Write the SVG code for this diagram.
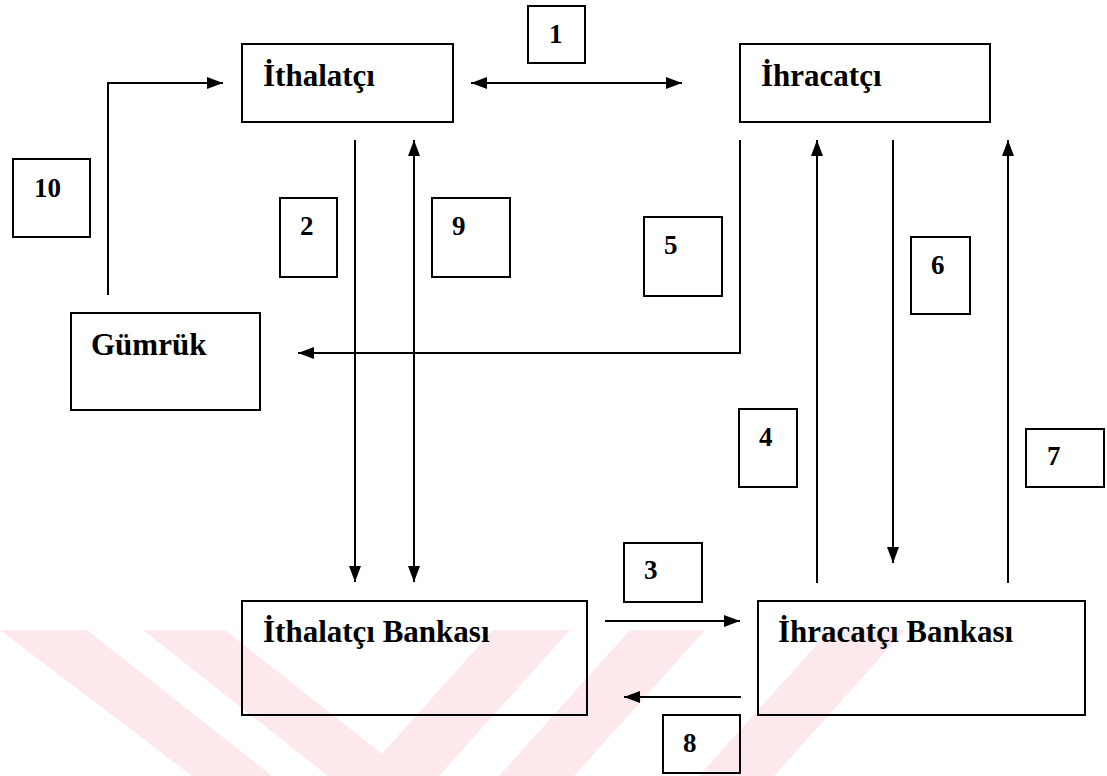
<svg xmlns="http://www.w3.org/2000/svg" width="1107" height="776" viewBox="0 0 1107 776">
<style>
.box{fill:none;stroke:#000;stroke-width:2}
.lbl{fill:#000;font-family:"Liberation Serif","Times New Roman",serif;font-weight:bold;font-size:31px}
.num{fill:#000;font-family:"Liberation Serif","Times New Roman",serif;font-weight:bold;font-size:27px}
.ln{fill:none;stroke:#000;stroke-width:2}
.wm{fill:#fde8ec}
</style>
<defs>
<marker id="ah" viewBox="0 0 16 12" refX="16" refY="6" markerWidth="16" markerHeight="12" markerUnits="userSpaceOnUse" orient="auto-start-reverse">
<path d="M0,0 L16,6 L0,12 Z" fill="#000"/>
</marker>
</defs>
<rect width="1107" height="776" fill="#fff"/>
<g id="watermark">
<polygon class="wm" points="0,630 87,630 272,776 192,776"/>
<polygon class="wm" points="143,630 225,630 410,776 328,776"/>
<polygon class="wm" points="493,630 570,630 439,776 362,776"/>
<polygon class="wm" points="630,630 705,630 574,776 499,776"/>
<polygon class="wm" points="830,630 905,630 774,776 699,776"/>
</g>
<g id="connectors">
<path class="ln" d="M108,295 L108,83 L223,83" marker-end="url(#ah)"/>
<path class="ln" d="M471,83 L682,83" marker-start="url(#ah)" marker-end="url(#ah)"/>
<path class="ln" d="M355,140 L355,582" marker-end="url(#ah)"/>
<path class="ln" d="M414,140 L414,582" marker-start="url(#ah)" marker-end="url(#ah)"/>
<path class="ln" d="M740,140 L740,353 L298,353" marker-end="url(#ah)"/>
<path class="ln" d="M817,583 L817,140" marker-end="url(#ah)"/>
<path class="ln" d="M893,140 L893,563" marker-end="url(#ah)"/>
<path class="ln" d="M1008,583 L1008,140" marker-end="url(#ah)"/>
<path class="ln" d="M605,621 L740,621" marker-end="url(#ah)"/>
<path class="ln" d="M741,697 L624,697" marker-end="url(#ah)"/>
</g>
<g id="ithalatci"><rect class="box" x="242" y="44" width="211" height="78"/><text class="lbl" x="263" y="86">İthalatçı</text></g>
<g id="ihracatci"><rect class="box" x="740" y="44" width="250" height="78"/><text class="lbl" x="761" y="86">İhracatçı</text></g>
<g id="gumruk"><rect class="box" x="71" y="313" width="189" height="97"/><text class="lbl" x="91" y="355">Gümrük</text></g>
<g id="ithalatci-bankasi"><rect class="box" x="242" y="601" width="345" height="114"/><text class="lbl" x="263" y="642">İthalatçı Bankası</text></g>
<g id="ihracatci-bankasi"><rect class="box" x="758" y="601" width="327" height="114"/><text class="lbl" x="778" y="642">İhracatçı Bankası</text></g>
<g id="label-1"><rect class="box" x="528" y="6" width="57" height="57"/><text class="num" x="549" y="43">1</text></g>
<g id="label-2"><rect class="box" x="280" y="198" width="57" height="79"/><text class="num" x="300" y="235">2</text></g>
<g id="label-3"><rect class="box" x="624" y="543" width="78" height="59"/><text class="num" x="644" y="579">3</text></g>
<g id="label-4"><rect class="box" x="739" y="409" width="58" height="78"/><text class="num" x="759" y="446">4</text></g>
<g id="label-5"><rect class="box" x="644" y="217" width="78" height="79"/><text class="num" x="664" y="254">5</text></g>
<g id="label-6"><rect class="box" x="911" y="237" width="59" height="77"/><text class="num" x="931" y="274">6</text></g>
<g id="label-7"><rect class="box" x="1026" y="429" width="78" height="58"/><text class="num" x="1047" y="465">7</text></g>
<g id="label-8"><rect class="box" x="663" y="715" width="77" height="58"/><text class="num" x="683" y="752">8</text></g>
<g id="label-9"><rect class="box" x="432" y="198" width="78" height="79"/><text class="num" x="452" y="235">9</text></g>
<g id="label-10"><rect class="box" x="13" y="159" width="77" height="78"/><text class="num" x="34" y="197">10</text></g>
</svg>
